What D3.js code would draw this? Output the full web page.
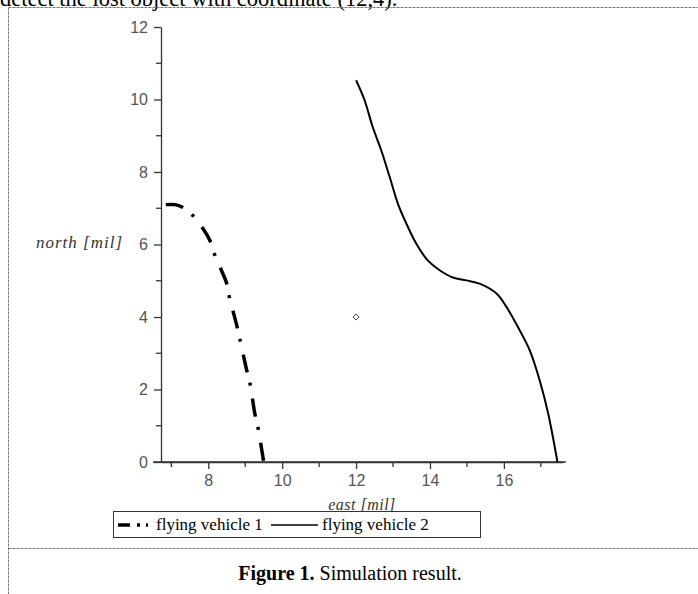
<!DOCTYPE html>
<html>
<head>
<meta charset="utf-8">
<script src="https://cdn.jsdelivr.net/npm/d3@7"></script>
<style>
  body { margin: 0; background: #fff; }
  svg { display: block; }
  .axis path, .axis line { stroke: #333; stroke-width: 1.3; }
  .axis text { font-family: "Liberation Sans", sans-serif; font-size: 16px; fill: #555; }
</style>
</head>
<body>
<div id="plot"></div>
<script>
//-----------------------------DATA-----------------------------//
const vehicle1East = [6.85, 7.1, 7.3, 7.59, 7.85, 8.04, 8.18, 8.35, 8.5, 8.57, 8.77, 8.86, 9.04, 9.13, 9.26, 9.35, 9.5];
const vehicle1North = [7.1, 7.1, 7.03, 6.79, 6.45, 6.12, 5.7, 5.3, 4.92, 4.55, 3.77, 3.36, 2.53, 2.16, 1.33, 0.92, 0];
const vehicle2East = [12.0, 12.23, 12.45, 12.68, 12.91, 13.13, 13.36, 13.63, 13.94, 14.26, 14.62, 14.98, 15.34, 15.8, 16.07, 16.43, 16.7, 16.97, 17.2, 17.45];
const vehicle2North = [10.53, 9.98, 9.24, 8.6, 7.86, 7.13, 6.58, 6.02, 5.56, 5.29, 5.09, 5.01, 4.92, 4.65, 4.28, 3.63, 3.08, 2.25, 1.33, 0];
const lostObject = [12, 4];
const xMajorTicks = [8, 10, 12, 14, 16];
const xMinorTicks = [7, 9, 11, 13, 15, 17];
const yMajorTicks = [0, 2, 4, 6, 8, 10, 12];
const yMinorTicks = [1, 3, 5, 7, 9, 11];
const seriesNames = ["flying vehicle 1", "flying vehicle 2"];

//-----------------------------SVG------------------------------//
const width = 698;
const height = 594;

const svg = d3.select("#plot").append("svg")
  .attr("width", width)
  .attr("height", height);

// clipped sentence at the very top of the page
svg.append("text")
  .attr("x", 0)
  .attr("y", 6)
  .style("font-family", "Liberation Serif, serif")
  .style("font-size", "22.5px")
  .text("detect the lost object with coordinate (12,4).");

// dashed frame
const frame = svg.append("g")
  .attr("fill", "none")
  .attr("stroke", "#777")
  .attr("stroke-width", 1)
  .attr("stroke-dasharray", "3,1");
frame.append("line").attr("x1", 8.5).attr("x2", width).attr("y1", 7.5).attr("y2", 7.5);
frame.append("line").attr("x1", 8.5).attr("x2", 8.5).attr("y1", 7.5).attr("y2", height);
frame.append("line").attr("x1", 8.5).attr("x2", width).attr("y1", 548.5).attr("y2", 548.5);

//----------------------------SCALES----------------------------//
const xScale = d3.scaleLinear().domain([6.72, 17.6]).range([161, 563]);
const yScale = d3.scaleLinear().domain([0, 12]).range([462, 27]);

//-----------------------------AXES-----------------------------//
const xAxis = d3.axisBottom(xScale).tickValues(xMajorTicks).tickSize(7).tickSizeOuter(0).tickPadding(6);
const yAxis = d3.axisLeft(yScale).tickValues(yMajorTicks).tickSize(7).tickSizeOuter(0).tickPadding(6);

const gx = svg.append("g")
  .attr("class", "axis")
  .attr("transform", "translate(0," + yScale(0) + ")")
  .call(xAxis);
gx.selectAll(".minor").data(xMinorTicks).enter().append("line")
  .attr("class", "minor")
  .attr("x1", d => xScale(d)).attr("x2", d => xScale(d))
  .attr("y1", 0).attr("y2", 5);
// axis line runs a little past both ends
gx.append("line")
  .attr("x1", 153).attr("x2", 566)
  .attr("y1", 0).attr("y2", 0);

const gy = svg.append("g")
  .attr("class", "axis")
  .attr("transform", "translate(" + xScale.range()[0] + ",0)")
  .call(yAxis);
gy.selectAll(".minor").data(yMinorTicks).enter().append("line")
  .attr("class", "minor")
  .attr("x1", 0).attr("x2", -5)
  .attr("y1", d => yScale(d)).attr("y2", d => yScale(d));

// axis titles
svg.append("text")
  .attr("x", 362)
  .attr("y", 510)
  .attr("text-anchor", "middle")
  .style("font-family", "Liberation Serif, serif")
  .style("font-style", "italic")
  .style("font-size", "16px")
  .style("letter-spacing", "0.5px")
  .style("fill", "#333")
  .text("east [mil]");

svg.append("text")
  .attr("x", 123)
  .attr("y", 248)
  .attr("text-anchor", "end")
  .style("font-family", "Liberation Serif, serif")
  .style("font-style", "italic")
  .style("font-size", "17px")
  .style("letter-spacing", "1px")
  .style("fill", "#333")
  .text("north [mil]");

//----------------------------LINES-----------------------------//
const line = d3.line()
  .x(d => xScale(d[0]))
  .y(d => yScale(d[1]))
  .curve(d3.curveCatmullRom);

const v1 = vehicle1East.map((e, i) => [e, vehicle1North[i]]);
const v2 = vehicle2East.map((e, i) => [e, vehicle2North[i]]);

svg.append("path")
  .attr("d", line(v1))
  .attr("fill", "none")
  .attr("stroke", "#000")
  .attr("stroke-width", 3.5)
  .attr("stroke-dasharray", "18,11,3,13");

svg.append("path")
  .attr("d", line(v2))
  .attr("fill", "none")
  .attr("stroke", "#000")
  .attr("stroke-width", 2);

// lost object marker
svg.append("path")
  .attr("d", d3.symbol(d3.symbolDiamond2, 24)())
  .attr("transform", "translate(" + xScale(lostObject[0]) + "," + yScale(lostObject[1]) + ")")
  .attr("fill", "#fff")
  .attr("stroke", "#444")
  .attr("stroke-width", 1);

//----------------------------LEGEND----------------------------//
const legend = svg.append("g");
legend.append("rect")
  .attr("x", 113.5).attr("y", 511.5)
  .attr("width", 367).attr("height", 26)
  .attr("fill", "#fff")
  .attr("stroke", "#333");

legend.append("line")
  .attr("x1", 118).attr("x2", 152)
  .attr("y1", 525).attr("y2", 525)
  .attr("stroke", "#000").attr("stroke-width", 3.5)
  .attr("stroke-dasharray", "12,7,3,6,2,20");
legend.append("text")
  .attr("x", 156).attr("y", 530)
  .style("font-family", "Liberation Serif, serif")
  .style("font-size", "17px")
  .text(seriesNames[0]);

legend.append("line")
  .attr("x1", 271).attr("x2", 318)
  .attr("y1", 525).attr("y2", 525)
  .attr("stroke", "#000").attr("stroke-width", 1.5);
legend.append("text")
  .attr("x", 322).attr("y", 530)
  .style("font-family", "Liberation Serif, serif")
  .style("font-size", "17px")
  .text(seriesNames[1]);

//----------------------------CAPTION---------------------------//
const caption = svg.append("text")
  .attr("x", 350).attr("y", 580)
  .attr("text-anchor", "middle")
  .style("font-family", "Liberation Serif, serif")
  .style("font-size", "20px");
caption.append("tspan").style("font-weight", "bold").text("Figure 1.");
caption.append("tspan").text(" Simulation result.");
</script>
</body>
</html>
